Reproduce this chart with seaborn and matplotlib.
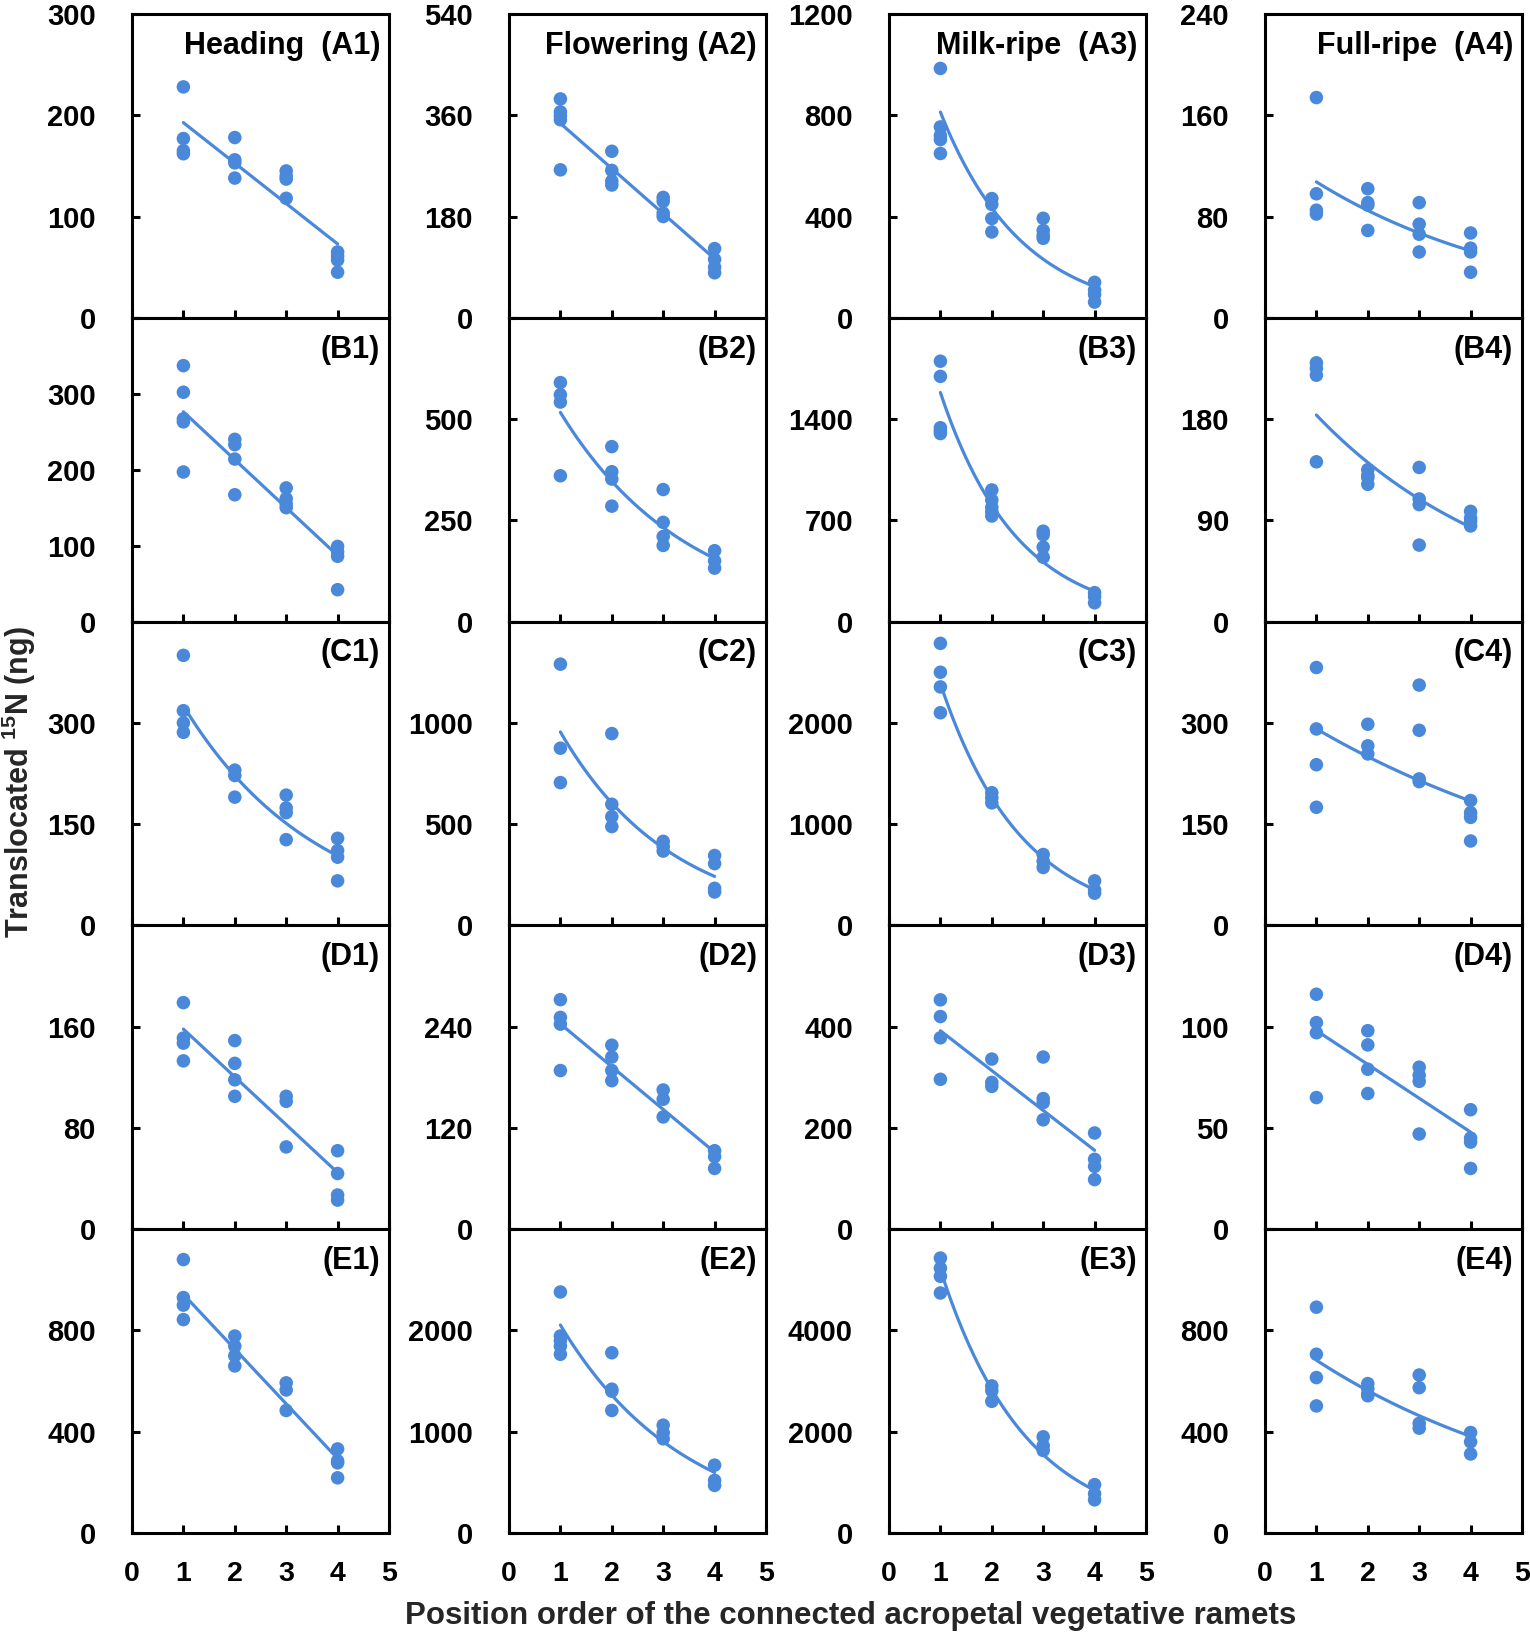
import numpy as np
import pandas as pd
import matplotlib

matplotlib.use("Agg")

import matplotlib.pyplot as plt
import seaborn as sns


POSITIONS = [1, 2, 3, 4]

# translocated 15N (ng) read per panel, one list per position order 1..4
A1 = [[228, 177, 165, 162], [178, 156, 153, 138], [145, 140, 137, 118], [65, 61, 57, 45]]
A2 = [[389, 366, 359, 352, 263], [296, 262, 243, 236], [214, 207, 186, 180], [123, 104, 90, 80]]
A3 = [[985, 754, 720, 704, 649], [471, 448, 392, 339], [393, 345, 326, 314], [140, 110, 92, 62]]
A4 = [[174, 98, 85, 82], [102, 91, 89, 69], [91, 74, 66, 52], [67, 55, 52, 36]]

B1 = [[337, 302, 267, 263, 197], [240, 233, 214, 167], [176, 162, 155, 150], [99, 92, 86, 42]]
B2 = [[590, 560, 542, 360], [432, 370, 352, 285], [326, 245, 210, 188], [175, 150, 132]]
B3 = [[1800, 1695, 1340, 1320, 1300], [910, 840, 790, 760, 730], [625, 600, 515, 445], [200, 172, 130]]
B4 = [[230, 225, 219, 142], [135, 130, 128, 122], [137, 109, 104, 68], [98, 92, 89, 85]]

C1 = [[400, 318, 300, 286], [230, 222, 190], [193, 174, 167, 127], [129, 111, 101, 66]]
C2 = [[1290, 875, 705], [947, 598, 537, 488], [415, 390, 367], [345, 305, 183, 165]]
C3 = [[2785, 2500, 2355, 2100], [1310, 1260, 1210], [700, 635, 572], [440, 350, 318]]
C4 = [[382, 291, 238, 175], [298, 266, 254], [356, 289, 217, 213], [185, 167, 160, 125]]

D1 = [[179, 151, 147, 133], [149, 131, 118, 105], [105, 101, 65], [62, 44, 27, 23]]
D2 = [[272, 251, 243, 188], [218, 204, 188, 176], [165, 154, 133], [93, 86, 72]]
D3 = [[453, 420, 378, 296], [336, 290, 282], [340, 258, 250, 216], [190, 138, 124, 98]]
D4 = [[116, 102, 97, 65], [98, 91, 79, 67], [80, 76, 73, 47], [59, 45, 43, 30]]

E1 = [[1080, 930, 900, 843], [778, 738, 700, 660], [593, 565, 484], [332, 285, 277, 218]]
E2 = [[2380, 1945, 1900, 1845, 1765], [1780, 1420, 1400, 1210], [1065, 990, 930], [670, 520, 470]]
E3 = [[5430, 5230, 5070, 4740], [2905, 2810, 2600], [1900, 1725, 1630], [955, 775, 655]]
E4 = [[892, 706, 614, 502], [590, 570, 550, 542], [624, 574, 433, 414], [397, 360, 312]]

PANELS = [
    ["A1", "A2", "A3", "A4"],
    ["B1", "B2", "B3", "B4"],
    ["C1", "C2", "C3", "C4"],
    ["D1", "D2", "D3", "D4"],
    ["E1", "E2", "E3", "E4"],
]
DATA = {
    "A1": A1, "A2": A2, "A3": A3, "A4": A4,
    "B1": B1, "B2": B2, "B3": B3, "B4": B4,
    "C1": C1, "C2": C2, "C3": C3, "C4": C4,
    "D1": D1, "D2": D2, "D3": D3, "D4": D4,
    "E1": E1, "E2": E2, "E3": E3, "E4": E4,
}

# y axis maximum and tick step of each panel
Y_MAX = {
    "A1": 300, "A2": 540, "A3": 1200, "A4": 240,
    "B1": 400, "B2": 750, "B3": 2100, "B4": 270,
    "C1": 450, "C2": 1500, "C3": 3000, "C4": 450,
    "D1": 240, "D2": 360, "D3": 600, "D4": 150,
    "E1": 1200, "E2": 3000, "E3": 6000, "E4": 1200,
}
Y_STEP = {
    "A1": 100, "A2": 180, "A3": 400, "A4": 80,
    "B1": 100, "B2": 250, "B3": 700, "B4": 90,
    "C1": 150, "C2": 500, "C3": 1000, "C4": 150,
    "D1": 80, "D2": 120, "D3": 200, "D4": 50,
    "E1": 400, "E2": 1000, "E3": 2000, "E4": 400,
}

# trend line type: linear or exponential
LINEAR = {"A1", "A2", "B1", "D1", "D2", "D3", "D4", "E1"}

STAGES = ["Heading  ", "Flowering ", "Milk-ripe  ", "Full-ripe  "]

BLUE = "#4A88DA"

sns.set_theme(style="ticks")
plt.rcParams["font.family"] = ["Liberation Sans", "DejaVu Sans"]
plt.rcParams["font.weight"] = "bold"
plt.rcParams["mathtext.fontset"] = "custom"
plt.rcParams["mathtext.rm"] = "Liberation Sans:bold"
plt.rcParams["mathtext.bf"] = "Liberation Sans:bold"

W, H = 1530, 1636
fig = plt.figure(figsize=(W / 100, H / 100), dpi=100)

col_left = [132, 509, 889, 1265]
col_width = 257
top_px, bottom_px = 14, 1533
row_h = (bottom_px - top_px) / 5


def to_frame(values):
    rows = []
    for pos, group in zip(POSITIONS, values):
        for v in group:
            rows.append({"x": pos, "y": v})
    return pd.DataFrame(rows)


for r, row in enumerate(PANELS):
    for c, name in enumerate(row):
        left = col_left[c] / W
        bottom = 1 - (top_px + (r + 1) * row_h) / H
        ax = fig.add_axes([left, bottom, col_width / W, row_h / H])

        df = to_frame(DATA[name])
        sns.scatterplot(data=df, x="x", y="y", ax=ax, color=BLUE, s=95,
                        edgecolor="none", linewidth=0, zorder=3)

        xs = np.linspace(1, 4, 60)
        if name in LINEAR:
            k, b = np.polyfit(df["x"], df["y"], 1)
            ys = k * xs + b
        else:
            k, b = np.polyfit(df["x"], np.log(df["y"]), 1)
            ys = np.exp(b + k * xs)
        fit = pd.DataFrame({"x": xs, "y": ys})
        sns.lineplot(data=fit, x="x", y="y", ax=ax, color=BLUE, linewidth=2.3, zorder=2)

        ymax, step = Y_MAX[name], Y_STEP[name]
        ax.set_xlim(0, 5)
        ax.set_ylim(0, ymax)
        ax.set_xticks([0, 1, 2, 3, 4, 5])
        yt = np.arange(0, ymax + step / 2, step)
        ax.set_yticks(yt)
        labels = [f"{int(v)}" for v in yt]
        if r > 0:
            labels[-1] = ""
        ax.set_yticklabels(labels)
        if r < 4:
            ax.set_xticklabels([])
        ax.set_xlabel("")
        ax.set_ylabel("")

        for side in ["left", "right", "top", "bottom"]:
            ax.spines[side].set_visible(True)
            ax.spines[side].set_linewidth(2.2)
            ax.spines[side].set_color("black")
        ax.tick_params(axis="y", direction="in", length=6, width=2.2,
                       labelsize=21, pad=26, colors="black")
        ax.tick_params(axis="x", direction="in", length=6, width=2.2,
                       labelsize=20.5, pad=20, colors="black")
        for lab in ax.get_xticklabels() + ax.get_yticklabels():
            lab.set_fontweight("bold")

        title = f"({name})"
        if r == 0:
            title = STAGES[c] + title
        ax.text(0.965, 0.945, title, transform=ax.transAxes, ha="right", va="top",
                fontsize=22, fontweight="bold", color="black")

fig.text(0.012, 0.522, r"Translocated $^{\mathbf{15}}$N (ng)", rotation=90,
         ha="center", va="center", fontsize=22, fontweight="bold")
fig.text(0.556, 0.012, "Position order of the connected acropetal vegetative ramets",
         ha="center", va="center", fontsize=22.5, fontweight="bold")

fig.savefig("out.png", dpi=100)
